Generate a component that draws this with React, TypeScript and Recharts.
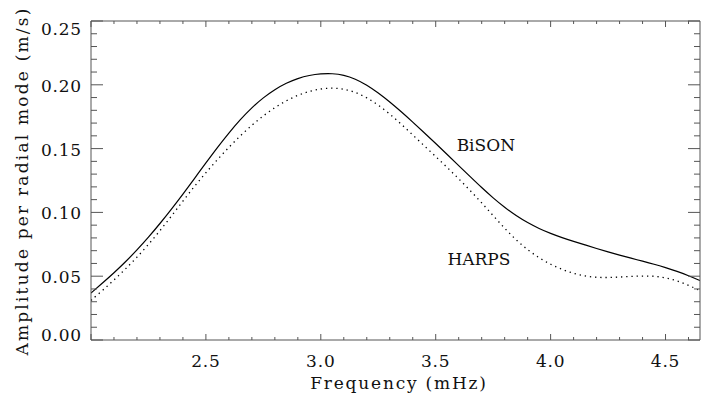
import { ComposedChart, Line, XAxis, YAxis, ReferenceDot } from 'recharts';

// Frequency grid (mHz) and the two amplitude curves (m/s).
const freq = [
  2.0, 2.05, 2.1, 2.15, 2.2, 2.25, 2.3, 2.35, 2.4, 2.45, 2.5, 2.55, 2.6, 2.65, 2.7, 2.75, 2.8, 2.85,
  2.9, 2.95, 3.0, 3.05, 3.1, 3.15, 3.2, 3.25, 3.3, 3.35, 3.4, 3.45, 3.5, 3.55, 3.6, 3.65, 3.7, 3.75,
  3.8, 3.85, 3.9, 3.95, 4.0, 4.05, 4.1, 4.15, 4.2, 4.25, 4.3, 4.35, 4.4, 4.45, 4.5, 4.55, 4.6, 4.65,
];
const bison = [
  0.0368, 0.0446, 0.0526, 0.0612, 0.0705, 0.0805, 0.0912, 0.1025, 0.1143, 0.1265, 0.1388, 0.1509,
  0.1623, 0.1729, 0.1822, 0.19, 0.1964, 0.2014, 0.2051, 0.2075, 0.2087, 0.2089, 0.2077, 0.2047,
  0.1999, 0.1937, 0.1866, 0.1789, 0.1708, 0.1625, 0.154, 0.1454, 0.1367, 0.128, 0.1194, 0.1113,
  0.1039, 0.0974, 0.0919, 0.0873, 0.0835, 0.0802, 0.0773, 0.0745, 0.0717, 0.069, 0.0665, 0.0641,
  0.0618, 0.0594, 0.0567, 0.0538, 0.0505, 0.0466,
];
const harps = [
  0.031, 0.0388, 0.047, 0.0556, 0.0648, 0.0748, 0.0856, 0.0971, 0.1089, 0.1204, 0.1312, 0.1414,
  0.1511, 0.1601, 0.1684, 0.1758, 0.1822, 0.1876, 0.1919, 0.195, 0.1969, 0.1976, 0.1968, 0.1943,
  0.19, 0.1842, 0.1772, 0.1692, 0.1607, 0.1522, 0.1438, 0.1352, 0.1264, 0.1172, 0.1075, 0.0975,
  0.0875, 0.0783, 0.0706, 0.0643, 0.0592, 0.0552, 0.0521, 0.05, 0.049, 0.0489, 0.0493, 0.0498,
  0.0502, 0.0501, 0.0489, 0.0465, 0.043, 0.0386,
];

const xTicks = [
  2.0, 2.1, 2.2, 2.3, 2.4, 2.5, 2.6, 2.7, 2.8, 2.9, 3.0, 3.1, 3.2, 3.3, 3.4, 3.5, 3.6, 3.7, 3.8, 3.9,
  4.0, 4.1, 4.2, 4.3, 4.4, 4.5, 4.6,
];
const yTicks = [
  0, 0.01, 0.02, 0.03, 0.04, 0.05, 0.06, 0.07, 0.08, 0.09, 0.1, 0.11, 0.12, 0.13, 0.14, 0.15, 0.16,
  0.17, 0.18, 0.19, 0.2, 0.21, 0.22, 0.23, 0.24, 0.25,
];

const xLabel = 'Frequency (mHz)';
const yLabel = 'Amplitude per radial mode (m/s)';
const seriesLabels = [
  { name: 'BiSON', f: 3.591, a: 0.1484 },
  { name: 'HARPS', f: 3.551, a: 0.0586 },
];

const data = freq.map((f, i) => ({ f, bison: bison[i], harps: harps[i] }));

const AXIS = '#555';
const INK = '#111';
const FONT = 'DejaVu Serif, Liberation Serif, serif';

const isMajorX = (v: number) => Math.round(v * 10) % 5 === 0;
const isMajorY = (v: number) => Math.round(v * 100) % 5 === 0;

// ticks point into the plot, IDL style; x ticks are half the length of y ticks
function BottomTick(props: any) {
  const x = Number(props.x);
  const y = Number(props.y);
  const v = props.payload.value;
  const major = isMajorX(v);
  return (
    <g>
      <path d={`M${x},${y}V${y - (major ? 6 : 3)}`} stroke={AXIS} fill="none" />
      {major && v > 2.01 && (
        <text x={x} y={y + 27} textAnchor="middle" fontFamily={FONT} fontSize={17} letterSpacing={0.8} fill={INK}>
          {v.toFixed(1)}
        </text>
      )}
    </g>
  );
}

function TopTick(props: any) {
  const x = Number(props.x);
  const y = Number(props.y);
  const major = isMajorX(props.payload.value);
  return <path d={`M${x},${y}V${y + (major ? 6 : 3)}`} stroke={AXIS} fill="none" />;
}

function LeftTick(props: any) {
  const x = Number(props.x);
  const y = Number(props.y);
  const v = props.payload.value;
  const major = isMajorY(v);
  // end labels are kept inside the axis range
  const cy = Math.min(335, Math.max(29, y + 1));
  return (
    <g>
      <path d={`M${x},${y}H${x + (major ? 12 : 6)}`} stroke={AXIS} fill="none" />
      {major && (
        <text x={x - 9} y={cy + 6} textAnchor="end" fontFamily={FONT} fontSize={17} letterSpacing={0.8} fill={INK}>
          {v.toFixed(2)}
        </text>
      )}
    </g>
  );
}

function RightTick(props: any) {
  const x = Number(props.x);
  const y = Number(props.y);
  const major = isMajorY(props.payload.value);
  return <path d={`M${x},${y}H${x - (major ? 12 : 6)}`} stroke={AXIS} fill="none" />;
}

function SeriesName({ cx, cy, name }: any) {
  return (
    <text x={cx} y={cy} fontFamily={FONT} fontSize={17} fill={INK}>
      {name}
    </text>
  );
}

export default function App() {
  return (
    <div style={{ width: 706, height: 402, background: '#fff', position: 'relative' }}>
      <style>{'body{margin:0}'}</style>
      <ComposedChart width={706} height={402} data={data} margin={{ top: 20, right: 5, bottom: 22, left: 11 }}>
        <XAxis
          xAxisId="b"
          dataKey="f"
          type="number"
          domain={[2.0, 4.65]}
          allowDataOverflow
          ticks={xTicks}
          interval={0}
          tick={BottomTick}
          tickLine={false}
          tickSize={0}
          tickMargin={0}
          height={40}
          axisLine={{ stroke: AXIS }}
        />
        <XAxis
          xAxisId="t"
          orientation="top"
          dataKey="f"
          type="number"
          domain={[2.0, 4.65]}
          allowDataOverflow
          ticks={xTicks}
          interval={0}
          tick={TopTick}
          tickLine={false}
          tickSize={0}
          tickMargin={0}
          height={1}
          axisLine={{ stroke: AXIS }}
        />
        <YAxis
          yAxisId="l"
          type="number"
          domain={[0, 0.25]}
          allowDataOverflow
          ticks={yTicks}
          interval={0}
          tick={LeftTick}
          tickLine={false}
          tickSize={0}
          tickMargin={0}
          width={80}
          axisLine={{ stroke: AXIS }}
        />
        <YAxis
          yAxisId="r"
          orientation="right"
          type="number"
          domain={[0, 0.25]}
          allowDataOverflow
          ticks={yTicks}
          interval={0}
          tick={RightTick}
          tickLine={false}
          tickSize={0}
          tickMargin={0}
          width={1}
          axisLine={{ stroke: AXIS }}
        />
        <Line
          xAxisId="b"
          yAxisId="l"
          type="basis"
          dataKey="bison"
          stroke="#000"
          strokeWidth={1.2}
          dot={false}
          isAnimationActive={false}
        />
        <Line
          xAxisId="b"
          yAxisId="l"
          type="basis"
          dataKey="harps"
          stroke="#000"
          strokeWidth={1.3}
          strokeDasharray="1.3 3.9"
          dot={false}
          isAnimationActive={false}
        />
        {seriesLabels.map((s) => (
          <ReferenceDot
            key={s.name}
            xAxisId="b"
            yAxisId="l"
            x={s.f}
            y={s.a}
            r={0}
            shape={(p: any) => <SeriesName {...p} name={s.name} />}
          />
        ))}
      </ComposedChart>
      <svg
        width={706}
        height={402}
        style={{ position: 'absolute', left: 0, top: 0, pointerEvents: 'none' }}
      >
        <text x={399} y={389} textAnchor="middle" fontFamily={FONT} fontSize={17} letterSpacing={1.8} fill={INK}>
          {xLabel}
        </text>
        <text
          transform="translate(28,181) rotate(-90)"
          textAnchor="middle"
          fontFamily={FONT}
          fontSize={17}
          letterSpacing={2.2}
          fill={INK}
        >
          {yLabel}
        </text>
      </svg>
    </div>
  );
}
